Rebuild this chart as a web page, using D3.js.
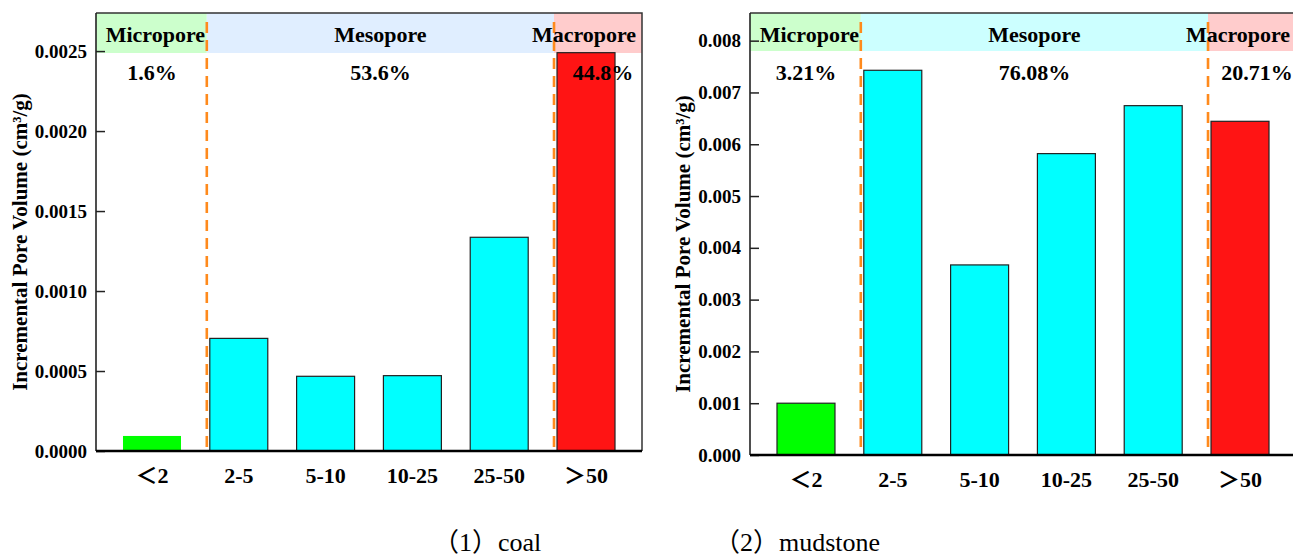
<!DOCTYPE html>
<html>
<head>
<meta charset="utf-8">
<script src="https://cdn.jsdelivr.net/npm/d3@7"></script>
<style>
  html, body { margin: 0; padding: 0; background: #fff; }
  svg { display: block; }
  text { font-family: "Liberation Serif", "Times New Roman", "Noto Serif", serif; }
</style>
</head>
<body>
<svg id="chart" width="1293" height="558"></svg>
<script>
// ---------- data ----------
const categories = ["＜2", "2-5", "5-10", "10-25", "25-50", "＞50"];
const coalValues = [0.000094, 0.000704, 0.000467, 0.000471, 0.001336, 0.00249];
const mudstoneValues = [0.001, 0.007428, 0.00367, 0.005819, 0.006745, 0.006443];
const coalTicks = [0, 0.0005, 0.001, 0.0015, 0.002, 0.0025];
const mudstoneTicks = [0, 0.001, 0.002, 0.003, 0.004, 0.005, 0.006, 0.007, 0.008];
const poreClasses = ["Micropore", "Mesopore", "Macropore"];
const classOfCategory = [0, 1, 1, 1, 1, 2];
const coalPercents = ["1.6%", "53.6%", "44.8%"];
const mudstonePercents = ["3.21%", "76.08%", "20.71%"];
const captions = ["（1）coal", "（2）mudstone"];
const yTitle = "Incremental Pore Volume (cm³/g)";

// ---------- styles / layout ----------
const barColors = ["#00ff00", "#00ffff", "#ff1414"];
const panels = [
  { values: coalValues, ticks: coalTicks, fmt: d3.format(".4f"), yMax: 0.002738,
    percents: coalPercents, left: 96, right: 642, top: 13, bottom: 451, bandBottom: 53,
    bandColors: ["#ccffcc", "#e0eeff", "#ffcccc"], titleX: 27, noStrokeFirst: true },
  { values: mudstoneValues, ticks: mudstoneTicks, fmt: d3.format(".3f"), yMax: 0.008534,
    percents: mudstonePercents, left: 750, right: 1296, top: 13, bottom: 455, bandBottom: 51,
    bandColors: ["#ccffcc", "#ccffff", "#ffcccc"], titleX: 690, noStrokeFirst: false }
];

const svg = d3.select("#chart");

panels.forEach((p, pi) => {
  const g = svg.append("g");
  const x = d3.scaleBand().domain(categories).range([p.left, p.right])
    .paddingInner(0.332).paddingOuter(0.311);
  const y = d3.scaleLinear().domain([0, p.yMax]).range([p.bottom, p.top]);

  const dash1 = x(categories[1]) - 3;
  const dash2 = x(categories[5]) - 3;
  const bandEdges = [p.left, dash1, dash2, p.right];

  // class bands at top
  g.selectAll("rect.band").data(poreClasses).join("rect")
    .attr("x", (d, i) => bandEdges[i])
    .attr("y", p.top)
    .attr("width", (d, i) => bandEdges[i + 1] - bandEdges[i])
    .attr("height", p.bandBottom - p.top)
    .attr("fill", (d, i) => p.bandColors[i]);

  // bars
  g.selectAll("rect.bar").data(p.values).join("rect")
    .attr("x", (d, i) => x(categories[i]))
    .attr("y", d => y(d))
    .attr("width", x.bandwidth())
    .attr("height", d => y(0) - y(d))
    .attr("fill", (d, i) => barColors[classOfCategory[i]])
    .attr("stroke", (d, i) => (p.noStrokeFirst && i === 0) ? "none" : "#222")
    .attr("stroke-width", 1.2);

  // dashed separators
  g.selectAll("line.sep").data([dash1, dash2]).join("line")
    .attr("x1", d => d).attr("x2", d => d)
    .attr("y1", p.top + 9).attr("y2", p.bottom)
    .attr("stroke", "#ff8a1c").attr("stroke-width", 2.6)
    .attr("stroke-dasharray", "11,7");

  // frame: top & right
  g.append("path")
    .attr("d", `M${p.left},${p.top}H${p.right}V${p.bottom}`)
    .attr("fill", "none").attr("stroke", "#333").attr("stroke-width", 1.5);

  // y axis (ticks inward)
  const yAxis = g.append("g").attr("transform", `translate(${p.left},0)`)
    .call(d3.axisLeft(y).tickValues(p.ticks).tickFormat(p.fmt).tickSize(0).tickPadding(9));
  yAxis.select(".domain").attr("stroke", "#222").attr("stroke-width", 1.6)
    .attr("d", `M0,${p.top}V${p.bottom}`);
  yAxis.selectAll(".tick line").attr("x2", 9).attr("stroke", "#222").attr("stroke-width", 1.5);
  yAxis.selectAll(".tick text")
    .style("font-family", '"Liberation Serif", serif')
    .style("font-weight", "bold").style("font-size", "19px").attr("fill", "#000");

  // x axis
  const xAxis = g.append("g").attr("transform", `translate(0,${p.bottom})`)
    .call(d3.axisBottom(x).tickSize(0).tickPadding(16));
  xAxis.select(".domain").attr("stroke", "#000").attr("stroke-width", 2.6)
    .attr("d", `M${p.left},0H${p.right}`);
  xAxis.selectAll(".tick text")
    .style("font-family", '"Liberation Serif", "Noto Sans CJK SC", serif')
    .style("font-weight", "bold").style("font-size", "22px").attr("fill", "#000");

  // class labels
  const classX = [(p.left + dash1) / 2 + 4, (dash1 + dash2) / 2, dash2 + 30];
  g.selectAll("text.cls").data(poreClasses).join("text")
    .attr("x", (d, i) => classX[i]).attr("y", 42)
    .attr("text-anchor", "middle")
    .style("font-weight", "bold").style("font-size", "22px")
    .text(d => d);

  // percentage labels
  const pctX = [x(categories[0]) + x.bandwidth() / 2, (dash1 + dash2) / 2,
                x(categories[5]) + x.bandwidth() / 2 + 17];
  g.selectAll("text.pct").data(p.percents).join("text")
    .attr("x", (d, i) => pctX[i]).attr("y", 80)
    .attr("text-anchor", "middle")
    .style("font-weight", "bold").style("font-size", "22px")
    .text(d => d);

  // y title
  g.append("text")
    .attr("transform", `translate(${p.titleX},${(p.top + p.bottom) / 2 + 10}) rotate(-90)`)
    .attr("text-anchor", "middle")
    .style("font-weight", "bold").style("font-size", "21px")
    .text(yTitle);
});

// captions
const capX = [433, 714];
svg.selectAll("text.cap").data(captions).join("text")
  .attr("x", (d, i) => capX[i]).attr("y", 551)
  .style("font-family", '"Liberation Serif", "Noto Sans CJK SC", serif')
  .style("font-size", "26px")
  .text(d => d);
</script>
</body>
</html>
